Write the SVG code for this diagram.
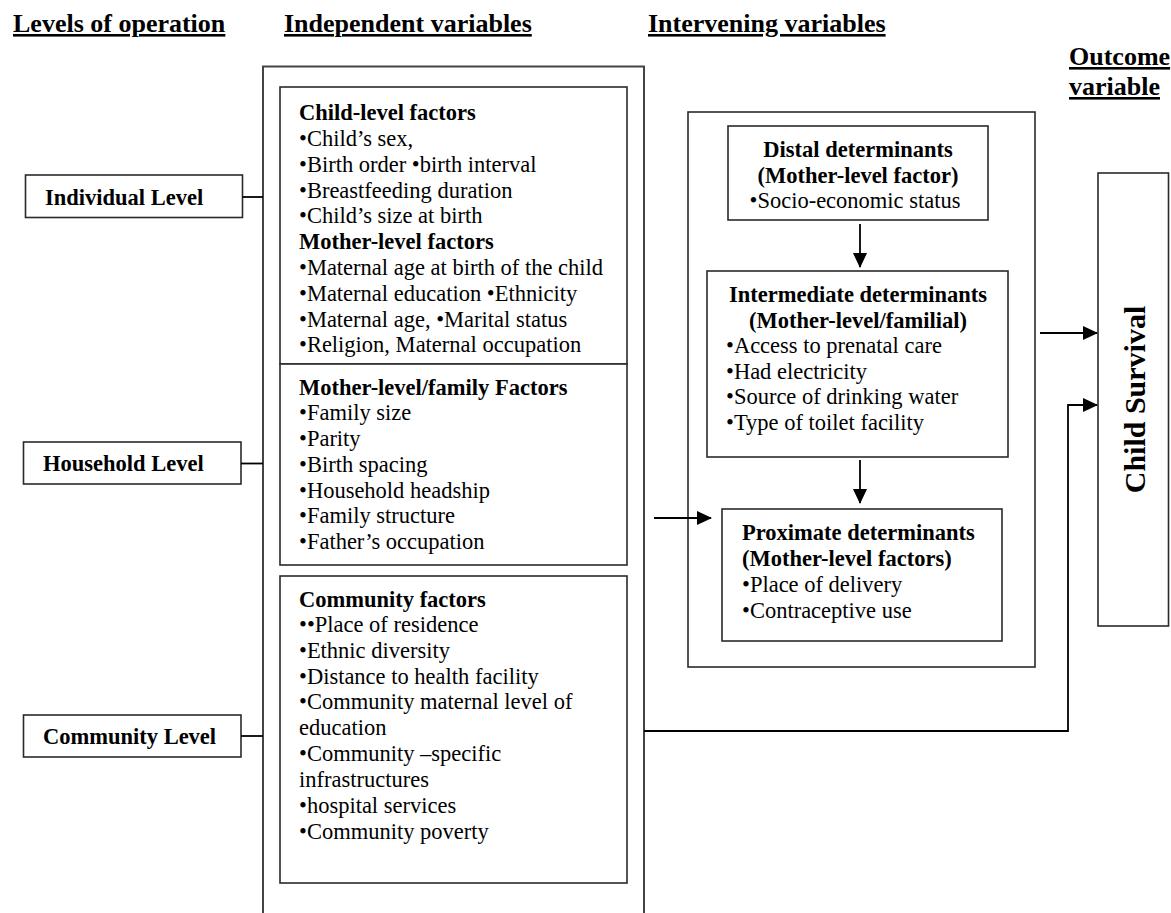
<svg xmlns="http://www.w3.org/2000/svg" width="1171" height="913" viewBox="0 0 1171 913">
  <style>
    text { font-family: "Liberation Serif", "Times New Roman", serif; fill: #000; }
    .hdr { font-size: 26px; font-weight: bold; text-decoration: underline; }
    .t { font-size: 22.5px; }
    .b { font-size: 22.5px; font-weight: bold; }
    .lvl { font-size: 22.5px; font-weight: bold; }
    .box { fill: #fff; stroke: #2a2a2a; stroke-width: 1.6; }
    .outer { fill: none; stroke: #444; stroke-width: 2; }
    .wire { fill: none; stroke: #000; stroke-width: 1.8; }
    .mid { text-anchor: middle; }
  </style>
  <defs>
    <marker id="arrow" markerUnits="userSpaceOnUse" markerWidth="15" markerHeight="14" refX="14" refY="7" orient="auto">
      <path d="M0,0 L15,7 L0,14 Z" fill="#000"/>
    </marker>
  </defs>
  <rect width="1171" height="913" fill="#fff"/>

  <!-- column headings -->
  <g id="headings">
    <text class="hdr" x="13" y="32">Levels of operation</text>
    <text class="hdr" x="284" y="32">Independent variables</text>
    <text class="hdr" x="648" y="32">Intervening variables</text>
    <text class="hdr" x="1069" y="65">Outcome</text>
    <text class="hdr" x="1069" y="95">variable</text>
  </g>

  <!-- outer frame of the independent variables (open at the bottom) -->
  <g id="independent-frame">
    <path class="outer" d="M263,913 V66.5 H644 V913"/>
  </g>

  <!-- levels of operation -->
  <g id="level-individual">
    <rect class="box" x="25.5" y="175" width="217" height="42.5"/>
    <text class="lvl" x="45" y="205">Individual Level</text>
  </g>
  <g id="level-household">
    <rect class="box" x="23.5" y="442" width="217.5" height="42"/>
    <text class="lvl" x="43" y="471">Household Level</text>
  </g>
  <g id="level-community">
    <rect class="box" x="23.5" y="715" width="217.5" height="42"/>
    <text class="lvl" x="43" y="744">Community Level</text>
  </g>

  <!-- child- and mother-level factors -->
  <g id="child-mother-factors">
    <rect class="box" x="280" y="87" width="347" height="277"/>
    <text class="b" x="299" y="120">Child-level factors</text>
    <text class="t" x="299" y="146">•Child’s sex,</text>
    <text class="t" x="299" y="172">•Birth order •birth interval</text>
    <text class="t" x="299" y="198">•Breastfeeding duration</text>
    <text class="t" x="299" y="223">•Child’s size at birth</text>
    <text class="b" x="299" y="249">Mother-level factors</text>
    <text class="t" x="299" y="275">•Maternal age at birth of the child</text>
    <text class="t" x="299" y="301">•Maternal education •Ethnicity</text>
    <text class="t" x="299" y="327">•Maternal age, •Marital status</text>
    <text class="t" x="299" y="352">•Religion, Maternal occupation</text>
  </g>

  <!-- mother-level / family factors -->
  <g id="family-factors">
    <rect class="box" x="280" y="364" width="347" height="201"/>
    <text class="b" x="299" y="395">Mother-level/family Factors</text>
    <text class="t" x="299" y="420">•Family size</text>
    <text class="t" x="299" y="446">•Parity</text>
    <text class="t" x="299" y="472">•Birth spacing</text>
    <text class="t" x="299" y="498">•Household headship</text>
    <text class="t" x="299" y="523">•Family structure</text>
    <text class="t" x="299" y="549">•Father’s occupation</text>
  </g>

  <!-- community factors -->
  <g id="community-factors">
    <rect class="box" x="280" y="576" width="347" height="307"/>
    <text class="b" x="299" y="607">Community factors</text>
    <text class="t" x="299" y="632">••Place of residence</text>
    <text class="t" x="299" y="658">•Ethnic diversity</text>
    <text class="t" x="299" y="684">•Distance to health facility</text>
    <text class="t" x="299" y="709">•Community maternal level of</text>
    <text class="t" x="299" y="735">education</text>
    <text class="t" x="299" y="761">•Community –specific</text>
    <text class="t" x="299" y="787">infrastructures</text>
    <text class="t" x="299" y="813">•hospital services</text>
    <text class="t" x="299" y="839">•Community poverty</text>
  </g>

  <!-- frame of the intervening variables -->
  <g id="intervening-frame">
    <rect class="box" x="688" y="112" width="347" height="555"/>
  </g>

  <g id="distal">
    <rect class="box" x="728" y="126" width="260" height="94"/>
    <text class="b mid" x="858" y="157">Distal determinants</text>
    <text class="b mid" x="858" y="183">(Mother-level factor)</text>
    <text class="t mid" x="855" y="208">•Socio-economic status</text>
  </g>

  <g id="intermediate">
    <rect class="box" x="707" y="271" width="301" height="186"/>
    <text class="b mid" x="858" y="302">Intermediate determinants</text>
    <text class="b mid" x="858" y="328">(Mother-level/familial)</text>
    <text class="t" x="726" y="353">•Access to prenatal care</text>
    <text class="t" x="726" y="379">•Had electricity</text>
    <text class="t" x="726" y="404">•Source of drinking water</text>
    <text class="t" x="726" y="430">•Type of toilet facility</text>
  </g>

  <g id="proximate">
    <rect class="box" x="722" y="509" width="280" height="132"/>
    <text class="b" x="742" y="540">Proximate determinants</text>
    <text class="b" x="742" y="566">(Mother-level factors)</text>
    <text class="t" x="742" y="592">•Place of delivery</text>
    <text class="t" x="742" y="618">•Contraceptive use</text>
  </g>

  <!-- outcome -->
  <g id="child-survival">
    <rect class="box" x="1098" y="173" width="70.5" height="453"/>
    <text transform="translate(1145,399.5) rotate(-90)" text-anchor="middle" style="font-size:30px;font-weight:bold">Child Survival</text>
  </g>

  <!-- connectors -->
  <g id="connectors">
    <line class="wire" x1="242.5" y1="197" x2="263" y2="197"/>
    <line class="wire" x1="241" y1="463.5" x2="263" y2="463.5"/>
    <line class="wire" x1="241" y1="736" x2="263" y2="736"/>
    <line class="wire" x1="860" y1="224" x2="860" y2="267" marker-end="url(#arrow)"/>
    <line class="wire" x1="860" y1="460" x2="860" y2="503" marker-end="url(#arrow)"/>
    <line class="wire" x1="654" y1="518" x2="711" y2="518" marker-end="url(#arrow)"/>
    <line class="wire" x1="1040" y1="333" x2="1097" y2="333" marker-end="url(#arrow)"/>
    <path class="wire" d="M644,731 H1068 V405 H1097" marker-end="url(#arrow)"/>
  </g>
</svg>
